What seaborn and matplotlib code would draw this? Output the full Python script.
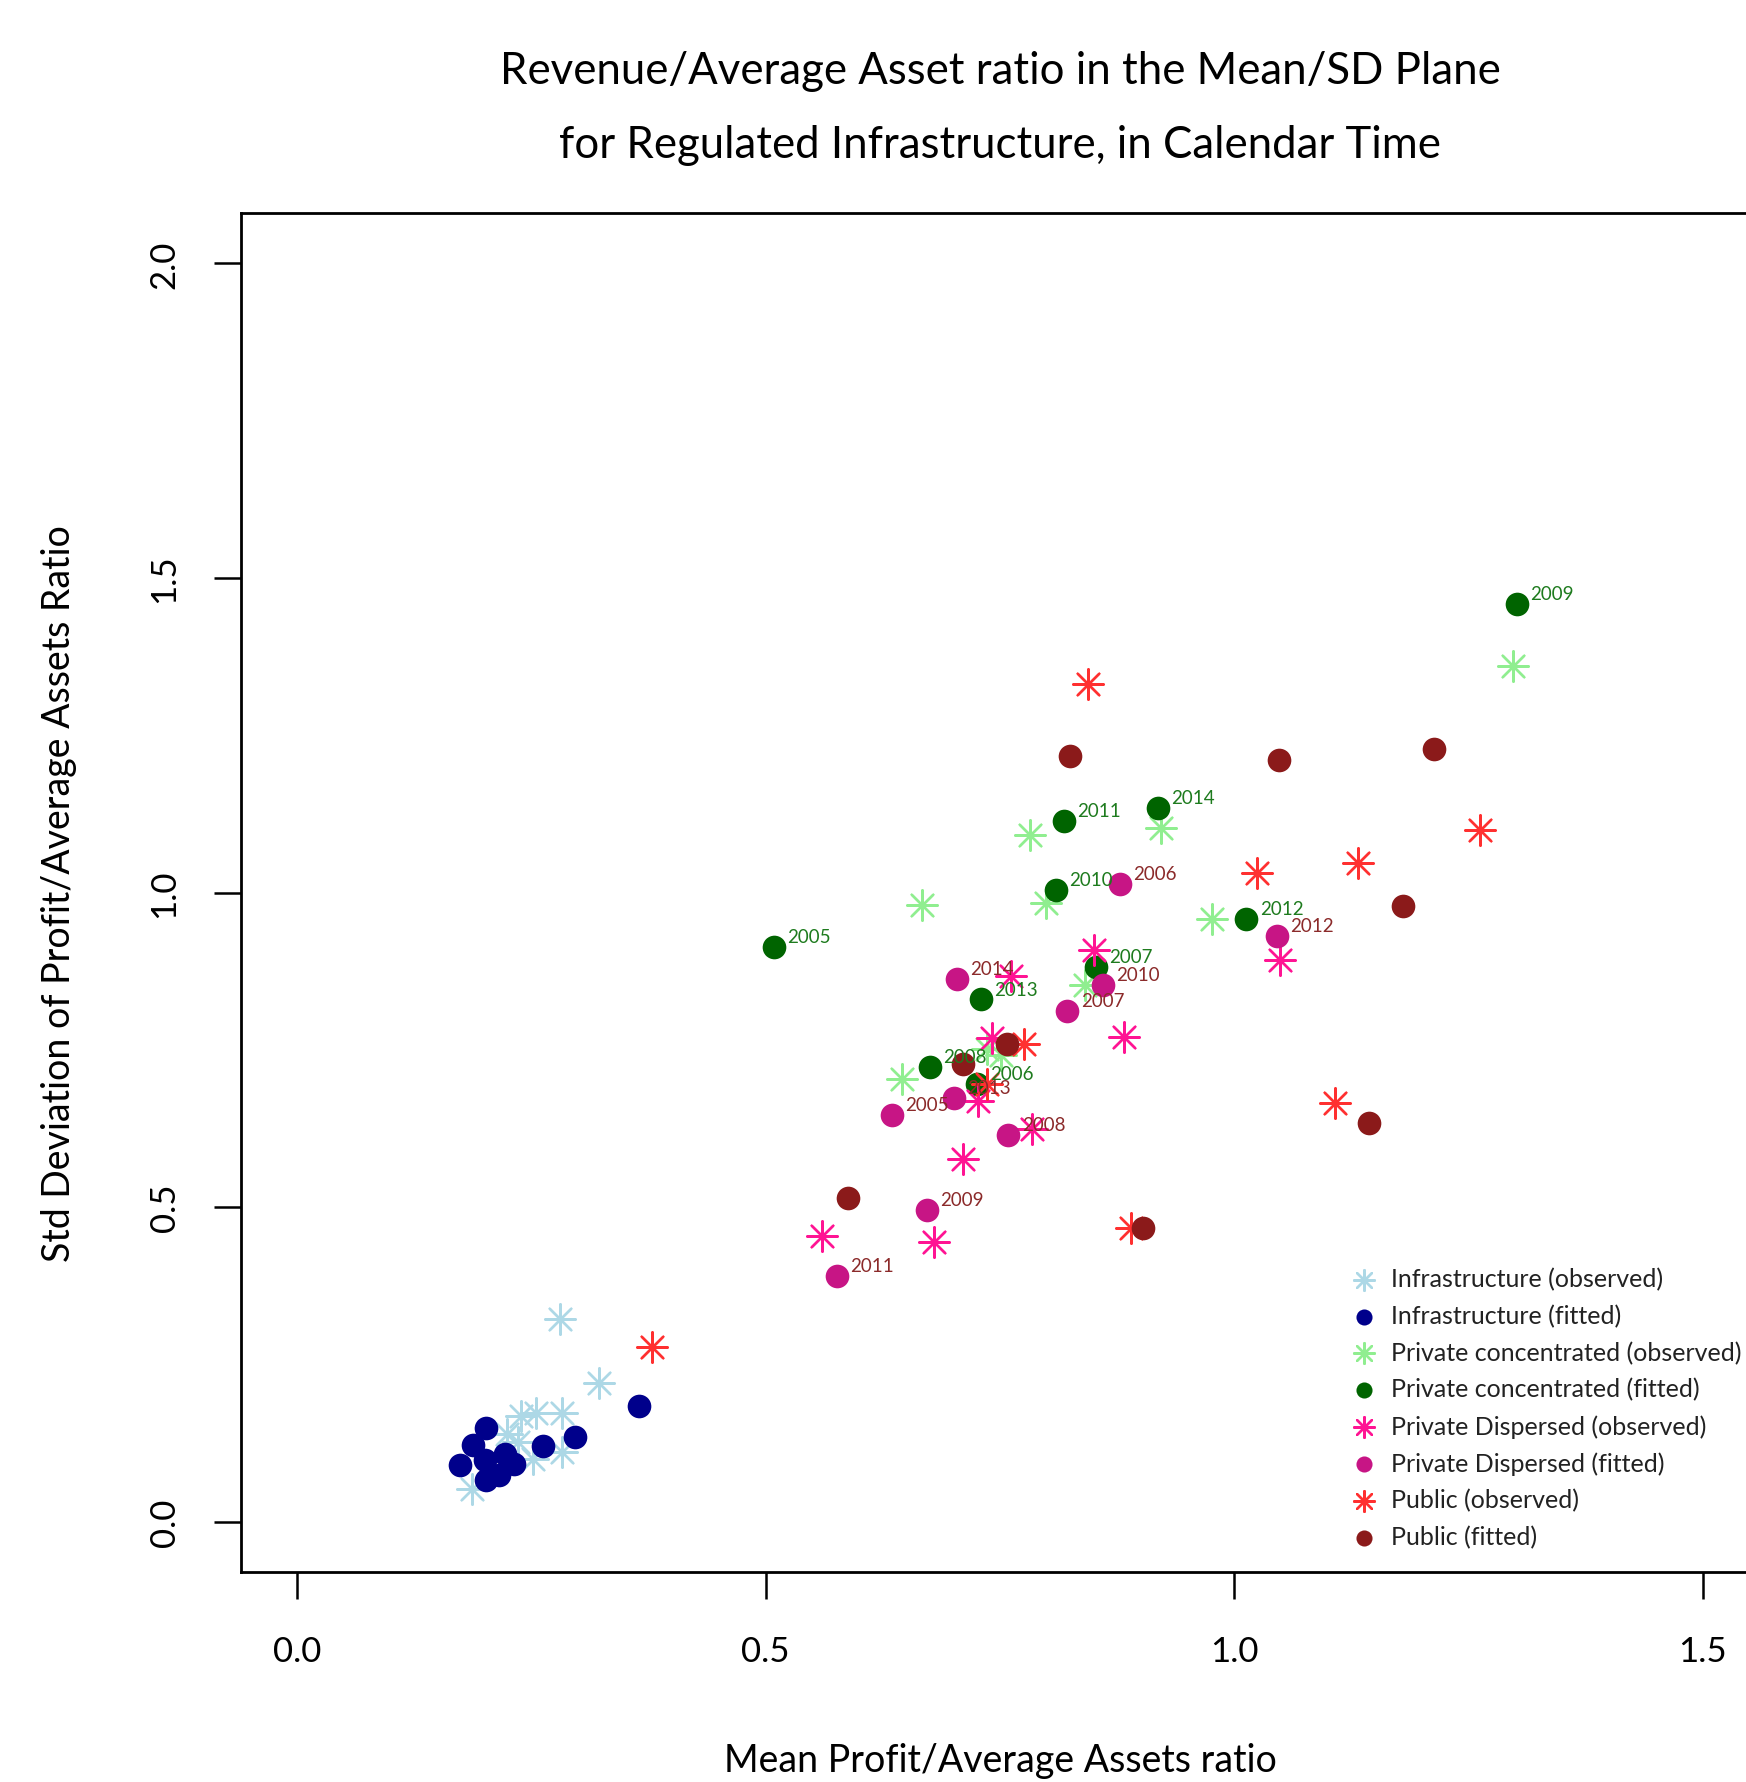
import numpy as np
import pandas as pd
import matplotlib
matplotlib.use("Agg")
import matplotlib.pyplot as plt
from matplotlib.markers import MarkerStyle
import seaborn as sns

# ---------------- data ----------------
years = [2005, 2006, 2007, 2008, 2009, 2010, 2011, 2012, 2013, 2014]

infra_obs_x = [0.280, 0.322, 0.283, 0.255, 0.239, 0.224, 0.236, 0.252, 0.283, 0.186]
infra_obs_y = [0.322, 0.221, 0.173, 0.173, 0.168, 0.140, 0.127, 0.100, 0.111, 0.052]
infra_fit_x = [0.174, 0.188, 0.201, 0.201, 0.215, 0.222, 0.231, 0.262, 0.296, 0.365, 0.200]
infra_fit_y = [0.090, 0.122, 0.149, 0.066, 0.074, 0.108, 0.092, 0.120, 0.135, 0.184, 0.098]

pc_obs_x = [1.297, 0.782, 0.922, 0.667, 0.799, 0.976, 0.841, 0.645, 0.736, 0.751]
pc_obs_y = [1.360, 1.092, 1.103, 0.980, 0.984, 0.958, 0.853, 0.703, 0.752, 0.741]
pc_fit_x = [0.509, 0.725, 0.852, 0.675, 1.302, 0.810, 0.818, 1.013, 0.730, 0.919]
pc_fit_y = [0.913, 0.696, 0.881, 0.723, 1.458, 1.004, 1.114, 0.958, 0.830, 1.134]

pd_obs_x = [0.850, 0.762, 1.049, 0.741, 0.882, 0.727, 0.784, 0.711, 0.560, 0.680]
pd_obs_y = [0.908, 0.868, 0.893, 0.769, 0.770, 0.668, 0.624, 0.577, 0.454, 0.445]
pd_fit_x = [0.635, 0.878, 0.822, 0.759, 0.672, 0.860, 0.576, 1.046, 0.701, 0.704]
pd_fit_y = [0.647, 1.013, 0.812, 0.615, 0.495, 0.853, 0.390, 0.931, 0.674, 0.863]

pub_obs_x = [0.844, 1.262, 1.132, 1.024, 0.776, 0.736, 1.107, 0.890, 0.379]
pub_obs_y = [1.331, 1.099, 1.047, 1.031, 0.759, 0.695, 0.665, 0.467, 0.277]
pub_fit_x = [0.825, 1.048, 1.213, 1.180, 0.758, 0.710, 1.144, 0.588, 0.903]
pub_fit_y = [1.217, 1.210, 1.228, 0.978, 0.759, 0.727, 0.633, 0.515, 0.467]

x_ticks = [0.0, 0.5, 1.0, 1.5]
x_tick_labels = ["0.0", "0.5", "1.0", "1.5"]
y_ticks = [0.0, 0.5, 1.0, 1.5, 2.0]
y_tick_labels = ["0.0", "0.5", "1.0", "1.5", "2.0"]

# ---------------- style ----------------
sns.set_theme(style="white")
plt.rcParams["font.family"] = ["Lato", "DejaVu Sans"]
plt.rcParams["axes.edgecolor"] = "black"
plt.rcParams["axes.linewidth"] = 2.0
plt.rcParams["text.color"] = "black"

W, H = 1746, 1783
fig = plt.figure(figsize=(W / 100, H / 100), dpi=100)
fig.patch.set_facecolor("white")
ax = fig.add_axes([241 / W, 1 - 1573 / H, (1759 - 241) / W, (1573 - 214) / H])

star = MarkerStyle((8, 2, 0))
S_STAR = 480
S_DOT = 290
LW_STAR = 1.7

series = [
    ("Infrastructure (observed)", infra_obs_x, infra_obs_y, "#ADD8E6", "star"),
    ("Infrastructure (fitted)", infra_fit_x, infra_fit_y, "#00008B", "dot"),
    ("Private concentrated (observed)", pc_obs_x, pc_obs_y, "#90EE90", "star"),
    ("Private concentrated (fitted)", pc_fit_x, pc_fit_y, "#006400", "dot"),
    ("Private Dispersed (observed)", pd_obs_x, pd_obs_y, "#FF1493", "star"),
    ("Private Dispersed (fitted)", pd_fit_x, pd_fit_y, "#C71585", "dot"),
    ("Public (observed)", pub_obs_x, pub_obs_y, "#FF3030", "star"),
    ("Public (fitted)", pub_fit_x, pub_fit_y, "#8B1A1A", "dot"),
]

for label, xs, ys, col, kind in series:
    df = pd.DataFrame({"x": xs, "y": ys})
    if kind == "star":
        sns.scatterplot(data=df, x="x", y="y", ax=ax, marker=star, s=S_STAR,
                        color=col, edgecolor=col, linewidth=LW_STAR, label=label)
    else:
        sns.scatterplot(data=df, x="x", y="y", ax=ax, marker="o", s=S_DOT,
                        color=col, edgecolor=col, linewidth=0, label=label)

# year labels
for xv, yv, yr in zip(pc_fit_x, pc_fit_y, years):
    ax.annotate(str(yr), (xv, yv), xytext=(9.5, 7.5), textcoords="offset points",
                ha="left", va="center", fontsize=13.5, color="#1E7B1E")
for xv, yv, yr in zip(pd_fit_x, pd_fit_y, years):
    ax.annotate(str(yr), (xv, yv), xytext=(9.5, 7.5), textcoords="offset points",
                ha="left", va="center", fontsize=13.5, color="#8B2A2A")

ax.set_xlim(-0.06, 1.56)
ax.set_ylim(-0.08, 2.08)
ax.set_xticks(x_ticks)
ax.set_xticklabels(x_tick_labels)
ax.set_yticks(y_ticks)
ax.set_yticklabels(y_tick_labels, rotation=90, va="center")
ax.tick_params(axis="both", direction="out", length=19.5, width=1.8, colors="black",
               labelsize=25, bottom=True, left=True)
ax.tick_params(axis="x", pad=26)
ax.tick_params(axis="y", pad=24)
ax.set_xlabel("")
ax.set_ylabel("")
for sp in ax.spines.values():
    sp.set_color("black")
    sp.set_linewidth(2.0)

cx = (241 + 1759) / 2 / W
fig.text(cx, 1 - 71 / H, "Revenue/Average Asset ratio in the Mean/SD Plane",
         ha="center", va="center", fontsize=31.5, color="black")
fig.text(cx, 1 - 145 / H, "for Regulated Infrastructure, in Calendar Time",
         ha="center", va="center", fontsize=31.5, color="black")
fig.text(cx, 1 - 1761 / H, "Mean Profit/Average Assets ratio",
         ha="center", va="center", fontsize=27, color="black")
fig.text(59 / W, 1 - 894 / H, "Std Deviation of Profit/Average Assets Ratio",
         ha="center", va="center", rotation=90, fontsize=27, color="black")

leg = ax.legend(loc="upper left", bbox_to_anchor=(1351 / W, 1 - 1268 / H),
                bbox_transform=fig.transFigure, frameon=False, fontsize=18,
                markerscale=0.68, handlelength=1.0, handletextpad=0.6,
                labelspacing=0.54, borderpad=0, borderaxespad=0)
for t in leg.get_texts():
    t.set_color("#222222")

fig.savefig("out.png", dpi=100)
